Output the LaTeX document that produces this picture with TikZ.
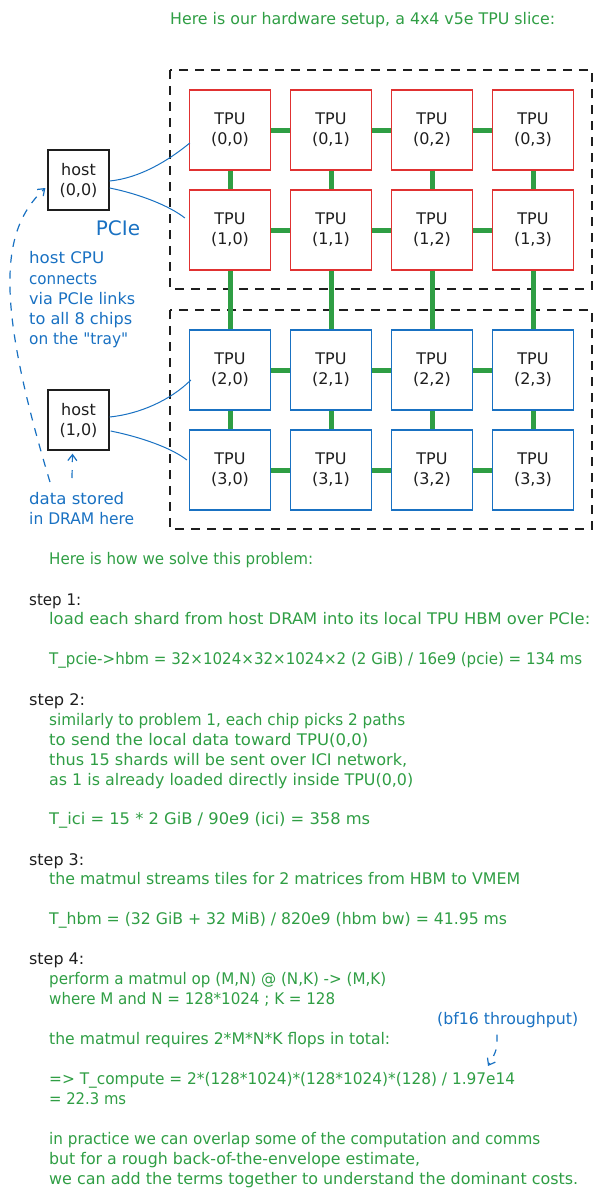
\documentclass[tikz,border=0pt]{standalone}
\usepackage{graphicx}
\usepackage{fontspec}
\setmainfont{DejaVu Sans}[Ligatures=TeXOff]
\usetikzlibrary{arrows.meta,calc}
\definecolor{cgreen}{HTML}{2F9E44}
\definecolor{cblue}{HTML}{1971C2}
\definecolor{cred}{HTML}{E03131}
\definecolor{cink}{HTML}{1E1E1E}
\newcommand\myfs{\fontsize{16}{20}\selectfont}
\newcommand\mybig{\fontsize{20}{24}\selectfont}
\newcommand\fitw[2]{\resizebox{#1pt}{\height}{#2}}
\begin{document}
\begin{tikzpicture}[x=1pt,y=-1pt,
  tpu/.style={draw, line width=1.3pt, minimum width=81pt, minimum height=80pt, inner sep=0pt, align=center, font=\myfs, text=cink},
  redtpu/.style={tpu, draw=cred},
  bluetpu/.style={tpu, draw=cblue},
  hostbox/.style={draw=cink, line width=1.3pt, minimum width=61pt, minimum height=60pt, inner sep=0pt, align=center, font=\myfs, text=cink},
  ici/.style={draw=cgreen, line width=5pt},
  pcie/.style={draw=cblue, line width=1pt},
  tray/.style={draw=cink, line width=1.3pt, dash pattern=on 9pt off 7pt},
  gtxt/.style={anchor=base west, inner sep=0pt, font=\myfs, text=cgreen},
  btxt/.style={anchor=base west, inner sep=0pt, font=\myfs, text=cblue},
  ktxt/.style={anchor=base west, inner sep=0pt, font=\myfs, text=cink},
  annarrow/.style={draw=cblue, line width=1.2pt, dash pattern=on 8pt off 8pt, -{Straight Barb[length=6pt,width=9pt]}}
]
\useasboundingbox (0,0) rectangle (598,1200);

% title
\node[gtxt] (title) at (170,24) {\fitw{385}{Here is our hardware setup, a 4x4 v5e TPU slice:}};

% trays
\draw[tray] (170,70) rectangle (592,289);
\draw[tray] (170,310) rectangle (592,529);

% TPU grid
\foreach \r/\y in {0/130,1/230}
  \foreach \c in {0,...,3}
    \node[redtpu] (t\r\c) at ({230+101*\c},\y) {TPU\\(\r,\c)};
\foreach \r/\y in {2/370,3/470}
  \foreach \c in {0,...,3}
    \node[bluetpu] (t\r\c) at ({230+101*\c},\y) {TPU\\(\r,\c)};

% ICI links
\foreach \r in {0,...,3}
  \foreach \c/\d in {0/1,1/2,2/3}
    \draw[ici] (t\r\c.east) -- (t\r\d.west);
\foreach \r/\s in {0/1,1/2,2/3}
  \foreach \c in {0,...,3}
    \draw[ici] (t\r\c.south) -- (t\s\c.north);

% hosts
\node[hostbox] (h0) at (78.5,180) {host\\(0,0)};
\node[hostbox] (h1) at (78.5,420) {host\\(1,0)};

% PCIe links
\draw[pcie] ($(h0.east)+(0,1)$) .. controls +(30,-3) and +(-22,18) .. ($(t00.west)+(1,13)$);
\draw[pcie] ($(h0.east)+(0,8)$) .. controls +(30,6) and +(-15,-12) .. ($(t10.west)+(-4,-12)$);
\draw[pcie] ($(h1.east)+(0,-3)$) .. controls +(30,-3) and +(-20,20) .. ($(t20.west)+(2,10)$);
\draw[pcie] ($(h1.east)+(1,11)$) .. controls +(30,6) and +(-15,-12) .. ($(t30.west)+(-2,-10)$);
\node[anchor=center, inner sep=0pt, font=\mybig, text=cblue] (pcielbl) at (118,228) {PCIe};

% annotations
\node[btxt] (ann1) at (29,263) {\fitw{75}{host CPU}};
\node[btxt] (ann2) at (29,284) {\fitw{68}{connects}};
\node[btxt] (ann3) at (29,304) {\fitw{106}{via PCIe links}};
\node[btxt] (ann4) at (29,324) {\fitw{103}{to all 8 chips}};
\node[btxt] (ann5) at (29,344) {\fitw{99}{on the "tray"}};
\coordinate (a0) at (50,482);
\draw[annarrow] (a0) .. controls (-5,300) and (0,230) .. ($(h0.west)+(-2,8)$);
\coordinate (a1) at (72,478);
\draw[annarrow] (a1) -- ($(h1.south)+(-6,3)$);
\node[btxt] (dram1) at (29,504) {\fitw{95}{data stored}};
\node[btxt] (dram2) at (29,524) {\fitw{105}{in DRAM here}};

% solution text
\node[gtxt] (sol) at (49,564) {\fitw{264}{Here is how we solve this problem:}};
\node[ktxt] (s1) at (29,605) {\fitw{52}{step 1:}};
\node[gtxt] (s1a) at (49,624) {\fitw{541}{load each shard from host DRAM into its local TPU HBM over PCIe:}};
\node[gtxt] (s1b) at (49,664) {\fitw{533}{T\_pcie->hbm = 32×1024×32×1024×2 (2 GiB) / 16e9 (pcie) = 134 ms}};
\node[ktxt] (s2) at (29,705) {\fitw{56}{step 2:}};
\node[gtxt] (s2a) at (49,725) {\fitw{356}{similarly to problem 1, each chip picks 2 paths}};
\node[gtxt] (s2b) at (49,745) {\fitw{319}{to send the local data toward TPU(0,0)}};
\node[gtxt] (s2c) at (49,765) {\fitw{358}{thus 15 shards will be sent over ICI network,}};
\node[gtxt] (s2d) at (49,785) {\fitw{364}{as 1 is already loaded directly inside TPU(0,0)}};
\node[gtxt] (s2e) at (49,824) {\fitw{321}{T\_ici = 15 * 2 GiB / 90e9 (ici) = 358 ms}};
\node[ktxt] (s3) at (29,865) {\fitw{55}{step 3:}};
\node[gtxt] (s3a) at (49,884) {\fitw{471}{the matmul streams tiles for 2 matrices from HBM to VMEM}};
\node[gtxt] (s3b) at (49,924) {\fitw{458}{T\_hbm = (32 GiB + 32 MiB) / 820e9 (hbm bw) = 41.95 ms}};
\node[ktxt] (s4) at (29,964) {\fitw{55}{step 4:}};
\node[gtxt] (s4a) at (49,984) {\fitw{337}{perform a matmul op (M,N) @ (N,K) -> (M,K)}};
\node[gtxt] (s4b) at (49,1004) {\fitw{286}{where M and N = 128*1024 ; K = 128}};
\node[btxt] (bf) at (437,1024) {\fitw{141}{(bf16 throughput)}};
\node[gtxt] (s4c) at (49,1044) {\fitw{341}{the matmul requires 2*M*N*K flops in total:}};
\coordinate (bft) at (488,1066);
\draw[annarrow, dash pattern=on 7pt off 8pt] ($(bf.south west)+(60,7)$) .. controls (497,1050) .. (bft);
\node[gtxt] (s4d) at (49,1084) {\fitw{466}{=> T\_compute = 2*(128*1024)*(128*1024)*(128) / 1.97e14}};
\node[gtxt] (s4e) at (49,1104) {\fitw{77}{= 22.3 ms}};
\node[gtxt] (c1) at (49,1144) {\fitw{491}{in practice we can overlap some of the computation and comms}};
\node[gtxt] (c2) at (49,1164) {\fitw{371}{but for a rough back-of-the-envelope estimate,}};
\node[gtxt] (c3) at (49,1184) {\fitw{529}{we can add the terms together to understand the dominant costs.}};
\end{tikzpicture}
\end{document}
